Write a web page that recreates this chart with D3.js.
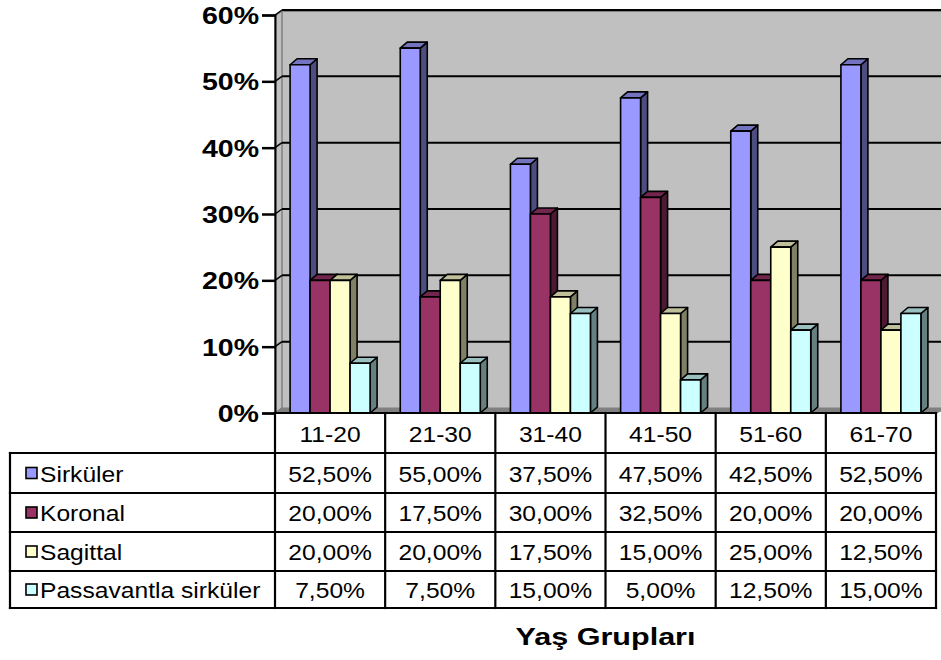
<!DOCTYPE html>
<html>
<head>
<meta charset="utf-8">
<script src="https://cdn.jsdelivr.net/npm/d3@7"></script>
<style>
  html, body { margin: 0; padding: 0; background: #fff; }
  svg { display: block; font-family: "Liberation Sans", Arial, sans-serif; }
</style>
</head>
<body>
<svg id="chart" width="941" height="660"></svg>
<script>
// ---- data ----
const categories = ["11-20", "21-30", "31-40", "41-50", "51-60", "61-70"];
const seriesNames = ["Sirküler", "Koronal", "Sagittal", "Passavantla sirküler"];
const sirkuler    = [52.5, 55.0, 37.5, 47.5, 42.5, 52.5];
const koronal     = [20.0, 17.5, 30.0, 32.5, 20.0, 20.0];
const sagittal    = [20.0, 20.0, 17.5, 15.0, 25.0, 12.5];
const passavantla = [7.5, 7.5, 15.0, 5.0, 12.5, 15.0];
const yTicks = [0, 10, 20, 30, 40, 50, 60];
const axisTitle = "Yaş Grupları";

const seriesValues = [sirkuler, koronal, sagittal, passavantla];
const frontColors = ["#9999FF", "#993366", "#FFFFCC", "#CCFFFF"];
const topColors   = ["#7373BF", "#73264D", "#BFBF99", "#99BFBF"];
const sideColors  = ["#4D4D80", "#4D1A33", "#808066", "#668080"];

// ---- layout ----
const svg = d3.select("#chart");
const pLeft = 275, pRight = 936, pTop = 15, floorY = 413;
const WDX = 7, WDY = -5;   // wall depth offset
const BDX = 7, BDY = -6;   // bar depth offset
const groupW = 80;

const x = d3.scaleBand().domain(categories).range([pLeft, pRight]);
const xi = d3.scaleBand().domain(seriesNames).range([0, groupW]);
const y = d3.scaleLinear().domain([0, 60]).range([floorY, pTop]);

const locale = d3.formatLocale({decimal: ",", thousands: ".", grouping: [3], currency: ["", ""]});
const fmt = v => locale.format(".2f")(v) + "%";

// ---- walls ----
const g = svg.append("g");
g.append("rect")
  .attr("x", pLeft + WDX).attr("y", pTop + WDY + 1)
  .attr("width", 941 - pLeft).attr("height", floorY + WDY - (pTop + WDY + 1))
  .attr("fill", "#C0C0C0");
g.append("line")
  .attr("x1", pLeft + WDX).attr("x2", 941)
  .attr("y1", pTop + WDY + 1).attr("y2", pTop + WDY + 1)
  .attr("stroke", "#808080").attr("stroke-width", 2);
g.append("polygon")
  .attr("points", [[pLeft, floorY], [pLeft, pTop + 1], [pLeft + WDX, pTop + 1 + WDY], [pLeft + WDX, floorY + WDY]].join(" "))
  .attr("fill", "#C0C0C0").attr("stroke", "#808080").attr("stroke-width", 1.5);
g.append("polygon")
  .attr("points", [[pLeft, floorY], [pRight, floorY], [pRight + WDX + 6, floorY + WDY], [pLeft + WDX, floorY + WDY]].join(" "))
  .attr("fill", "#808080").attr("stroke", "#808080").attr("stroke-width", 1);

yTicks.filter(t => t > 0).forEach(t => {
  const yy = y(t);
  g.append("line")
    .attr("x1", pLeft + WDX).attr("x2", 941)
    .attr("y1", yy + WDY).attr("y2", yy + WDY)
    .attr("stroke", "#000").attr("stroke-width", 2);
  g.append("line")
    .attr("x1", pLeft).attr("x2", pLeft + WDX)
    .attr("y1", yy).attr("y2", yy + WDY)
    .attr("stroke", "#000").attr("stroke-width", 1.5);
});

// ---- y axis ----
const yAxis = d3.axisLeft(y).tickValues(yTicks).tickSize(13).tickFormat(d => d + "%");
const ax = svg.append("g").attr("transform", `translate(${pLeft},0)`).call(yAxis);
ax.select(".domain").attr("stroke", "#000").attr("stroke-width", 2);
ax.selectAll(".tick line").attr("stroke", "#000").attr("stroke-width", 2.5);
const ySX = 1.19;
ax.selectAll(".tick text")
  .attr("fill", "#000")
  .attr("font-size", 24).attr("font-weight", "bold")
  .attr("font-family", "'Liberation Sans', Arial, sans-serif")
  .attr("text-anchor", "end")
  .attr("x", -16 / ySX).attr("dy", null).attr("y", 8.5)
  .attr("transform", `scale(${ySX},1)`);

// ---- bars ----
const bars = svg.append("g");
categories.forEach((cat, ci) => {
  seriesNames.forEach((s, si) => {
    const v = seriesValues[si][ci];
    const x0 = x(cat) + (x.bandwidth() - groupW) / 2 + xi(s);
    const w = xi.bandwidth();
    const y0 = y(v), yb = y(0);
    const bg = bars.append("g")
      .attr("stroke", "#000").attr("stroke-width", 1.6).attr("stroke-linejoin", "round");
    bg.append("polygon")
      .attr("points", [[x0 + w, yb], [x0 + w, y0], [x0 + w + BDX, y0 + BDY], [x0 + w + BDX, yb + BDY]].join(" "))
      .attr("fill", sideColors[si]);
    bg.append("polygon")
      .attr("points", [[x0, y0], [x0 + BDX, y0 + BDY], [x0 + w + BDX, y0 + BDY], [x0 + w, y0]].join(" "))
      .attr("fill", topColors[si]);
    bg.append("rect")
      .attr("x", x0).attr("y", y0).attr("width", w).attr("height", yb - y0)
      .attr("fill", frontColors[si]);
  });
});

// ---- data table ----
const rowTops = [413, 453, 493, 532, 571, 608];
const tableLeft = 10;
const tSX = 1.12, tFS = 22;
const tbl = svg.append("g");
function tText(xp, yp, str, anchor) {
  tbl.append("text")
    .attr("transform", `translate(${xp},${yp}) scale(${tSX},1)`)
    .attr("text-anchor", anchor)
    .attr("font-size", tFS)
    .attr("fill", "#000")
    .text(str);
}
tbl.append("rect").attr("x", pLeft).attr("y", rowTops[0]).attr("width", pRight - pLeft).attr("height", rowTops[1] - rowTops[0]).attr("fill", "#fff");
tbl.append("rect").attr("x", tableLeft).attr("y", rowTops[1]).attr("width", pRight - tableLeft).attr("height", rowTops[5] - rowTops[1]).attr("fill", "#fff");
categories.forEach(cat => {
  tText(x(cat) + x.bandwidth() / 2, (rowTops[0] + rowTops[1]) / 2 + 8.5, cat, "middle");
});
seriesNames.forEach((s, si) => {
  const r0 = rowTops[si + 1], r1 = rowTops[si + 2];
  const cy = (r0 + r1) / 2;
  tbl.append("rect")
    .attr("x", 26).attr("y", cy - 5.5).attr("width", 11).attr("height", 11)
    .attr("fill", frontColors[si]).attr("stroke", "#000").attr("stroke-width", 1.6);
  tText(40, cy + 8.5, s, "start");
  categories.forEach((cat, ci) => {
    tText(x(cat) + x.bandwidth() / 2, cy + 8.5, fmt(seriesValues[si][ci]), "middle");
  });
});
function L(x1, y1, x2, y2) {
  tbl.append("line").attr("x1", x1).attr("y1", y1).attr("x2", x2).attr("y2", y2)
    .attr("stroke", "#000").attr("stroke-width", 2.2).attr("stroke-linecap", "square");
}
L(pLeft, rowTops[0], pRight, rowTops[0]);
rowTops.slice(1).forEach(r => L(tableLeft, r, pRight, r));
L(tableLeft, rowTops[1], tableLeft, rowTops[5]);
L(pLeft, rowTops[0], pLeft, rowTops[5]);
categories.forEach(cat => {
  L(x(cat) + x.bandwidth(), rowTops[0], x(cat) + x.bandwidth(), rowTops[5]);
});

// ---- axis title ----
svg.append("text")
  .attr("transform", `translate(${(pLeft + pRight) / 2},645) scale(1.3,1)`)
  .attr("text-anchor", "middle")
  .attr("font-size", 23.5).attr("font-weight", "bold")
  .attr("fill", "#000")
  .text(axisTitle);
</script>
</body>
</html>
